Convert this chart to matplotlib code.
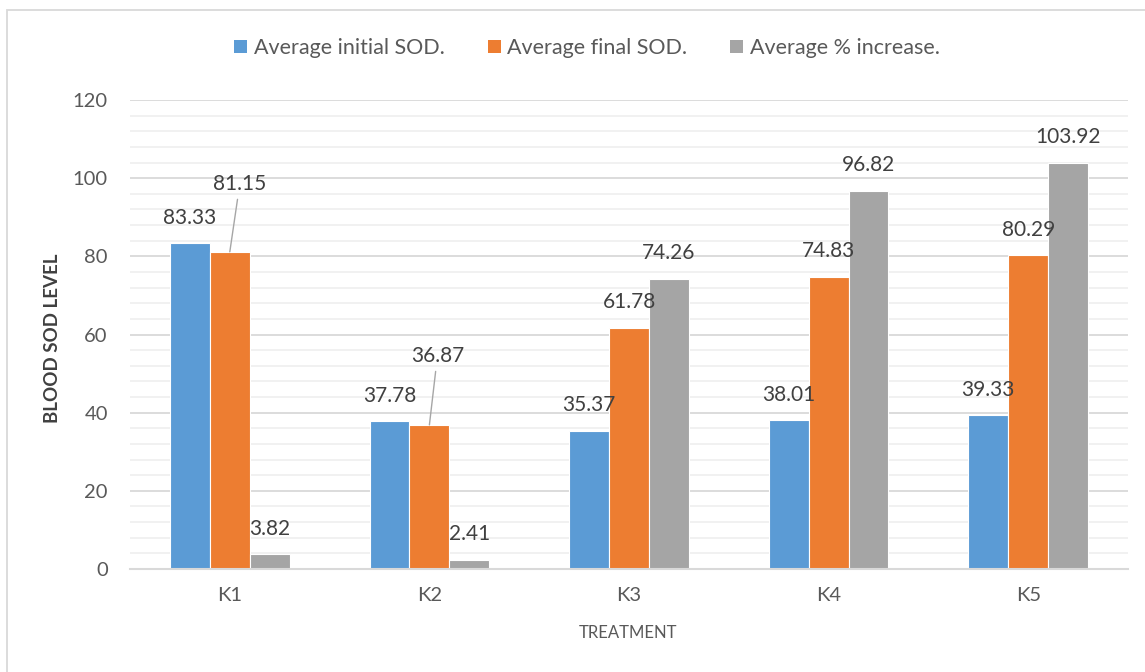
import matplotlib
matplotlib.use("Agg")
import matplotlib.pyplot as plt
from matplotlib.patches import Rectangle, Patch
from matplotlib.ticker import MultipleLocator
import numpy as np

plt.rcParams['font.family'] = ['Lato', 'DejaVu Sans']

treatments = ["K1", "K2", "K3", "K4", "K5"]
initial_sod = [83.33, 37.78, 35.37, 38.01, 39.33]
final_sod = [81.15, 36.87, 61.78, 74.83, 80.29]
pct_increase = [3.82, 2.41, 74.26, 96.82, 103.92]
series_names = ["Average initial SOD.", "Average final SOD.", "Average % increase."]
series_colors = ["#5B9BD5", "#ED7D31", "#A5A5A5"]

W, H = 1145, 672
fig = plt.figure(figsize=(W / 100, H / 100), dpi=100)
ax = fig.add_axes([130 / W, 103 / H, 998 / W, 469 / H])

x = np.arange(len(treatments))
bar_w = 0.2
all_series = [initial_sod, final_sod, pct_increase]

# Data label offsets in points; two labels are pulled up with leader lines
label_offsets = {(0, 1): (7.2, 49.0), (1, 1): (5.8, 49.7)}

for s, (vals, name, col) in enumerate(zip(all_series, series_names, series_colors)):
    xs = x + (s - 1) * bar_w
    ax.bar(xs, vals, width=bar_w, color=col, edgecolor="white", linewidth=0.8,
           label=name, zorder=3)
    for i, (xi, v) in enumerate(zip(xs, vals)):
        dx, dy = label_offsets.get((i, s), (0, 18.4))
        kw = {}
        if (i, s) in label_offsets:
            kw["arrowprops"] = dict(arrowstyle="-", color="#a6a6a6", lw=1.0,
                                    shrinkA=2, shrinkB=0)
        ax.annotate(f"{v:.2f}", xy=(xi, v), xytext=(dx, dy),
                    textcoords="offset points", ha="center", va="center",
                    fontsize=15, color="#404040", zorder=4, **kw)

ax.set_xlim(-0.5, len(treatments) - 0.5)
ax.set_ylim(0, 120)
ax.yaxis.set_major_locator(MultipleLocator(20))
ax.yaxis.set_minor_locator(MultipleLocator(4))
ax.grid(axis="y", which="major", color="#d9d9d9", linewidth=1.3, zorder=0)
ax.grid(axis="y", which="minor", color="#f0f0f0", linewidth=1.3, zorder=0)
ax.set_axisbelow(True)

ax.set_xticks(x)
ax.set_xticklabels(treatments)
ax.tick_params(axis="both", which="both", length=0, labelsize=14.5,
               labelcolor="#595959")
ax.tick_params(axis="x", pad=13)
ax.tick_params(axis="y", pad=16)

for side in ["top", "right", "left"]:
    ax.spines[side].set_visible(False)
ax.spines["bottom"].set_color("#d9d9d9")
ax.spines["bottom"].set_linewidth(1.5)
ax.spines["bottom"].set_zorder(5)

fig.text(52 / W, 1 - 338 / H, "BLOOD SOD LEVEL", rotation=90, ha="center",
         va="center", fontsize=13.5, fontweight="bold", color="#404040")
fig.text(628 / W, 1 - 633 / H, "TREATMENT", ha="center", va="center",
         fontsize=12, color="#595959")

handles = [Patch(facecolor=c, edgecolor="none") for c in series_colors]
fig.legend(handles, series_names, loc="center",
           bbox_to_anchor=(587 / W, 1 - 48 / H), ncol=3, frameon=False,
           fontsize=15.5, handlelength=0.6, handleheight=0.6,
           handletextpad=0.3, columnspacing=2.0, labelcolor="#595959")

# Chart area border
fig.add_artist(Rectangle((7 / W, -0.05), 1.2, (H - 10) / H + 0.05,
                         transform=fig.transFigure, fill=False,
                         edgecolor="#d9d9d9", linewidth=1.3))

fig.savefig("out.png", dpi=100)
